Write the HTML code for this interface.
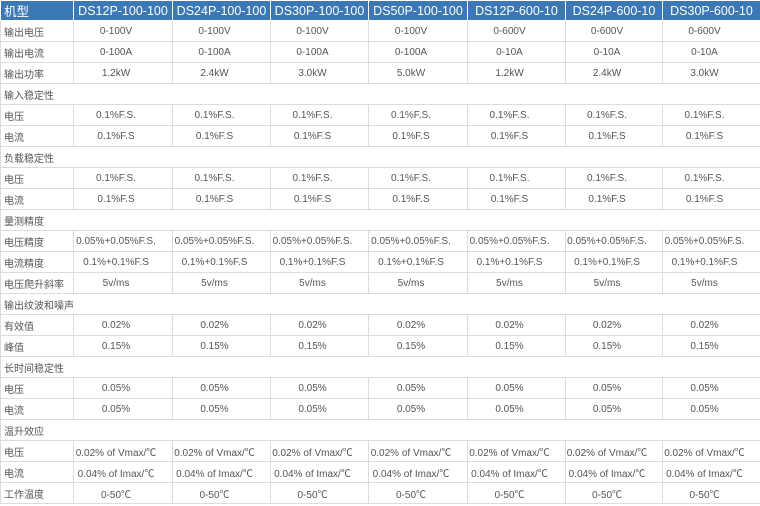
<!DOCTYPE html><html><head><meta charset="utf-8"><style>
body{margin:0;width:760px;height:506px;background:#fff;overflow:hidden}
table{border-collapse:collapse;table-layout:fixed;width:760px;font-family:"Liberation Sans","Noto Sans CJK SC",sans-serif;font-size:10px;color:#555}
td{border:1px solid #dcdcdc;height:20px;padding:0 14px 0 0;text-align:center;white-space:nowrap;overflow:hidden;vertical-align:middle}
td:first-child{text-align:left;padding:0 0 0 3px}
tr.h td{background:#3b78b5;color:#fff;font-size:12.5px;height:19px;border-color:#fff;padding:0}
tr.h td:first-child{padding-left:3px}
tr.s td{text-align:left;padding-left:3px}
</style></head><body><table>
<colgroup><col style="width:73px"><col style="width:99px"><col style="width:98px"><col style="width:98px"><col style="width:99px"><col style="width:98px"><col style="width:97px"><col style="width:98px"></colgroup>
<tr class="h"><td>机型</td><td>DS12P-100-100</td><td>DS24P-100-100</td><td>DS30P-100-100</td><td>DS50P-100-100</td><td>DS12P-600-10</td><td>DS24P-600-10</td><td>DS30P-600-10</td></tr>
<tr><td>输出电压</td><td>0-100V</td><td>0-100V</td><td>0-100V</td><td>0-100V</td><td>0-600V</td><td>0-600V</td><td>0-600V</td></tr>
<tr><td>输出电流</td><td>0-100A</td><td>0-100A</td><td>0-100A</td><td>0-100A</td><td>0-10A</td><td>0-10A</td><td>0-10A</td></tr>
<tr><td>输出功率</td><td>1.2kW</td><td>2.4kW</td><td>3.0kW</td><td>5.0kW</td><td>1.2kW</td><td>2.4kW</td><td>3.0kW</td></tr>
<tr class="s"><td colspan="8">输入稳定性</td></tr>
<tr><td>电压</td><td>0.1%F.S.</td><td>0.1%F.S.</td><td>0.1%F.S.</td><td>0.1%F.S.</td><td>0.1%F.S.</td><td>0.1%F.S.</td><td>0.1%F.S.</td></tr>
<tr><td>电流</td><td>0.1%F.S</td><td>0.1%F.S</td><td>0.1%F.S</td><td>0.1%F.S</td><td>0.1%F.S</td><td>0.1%F.S</td><td>0.1%F.S</td></tr>
<tr class="s"><td colspan="8">负载稳定性</td></tr>
<tr><td>电压</td><td>0.1%F.S.</td><td>0.1%F.S.</td><td>0.1%F.S.</td><td>0.1%F.S.</td><td>0.1%F.S.</td><td>0.1%F.S.</td><td>0.1%F.S.</td></tr>
<tr><td>电流</td><td>0.1%F.S</td><td>0.1%F.S</td><td>0.1%F.S</td><td>0.1%F.S</td><td>0.1%F.S</td><td>0.1%F.S</td><td>0.1%F.S</td></tr>
<tr class="s"><td colspan="8">量测精度</td></tr>
<tr><td>电压精度</td><td>0.05%+0.05%F.S.</td><td>0.05%+0.05%F.S.</td><td>0.05%+0.05%F.S.</td><td>0.05%+0.05%F.S.</td><td>0.05%+0.05%F.S.</td><td>0.05%+0.05%F.S.</td><td>0.05%+0.05%F.S.</td></tr>
<tr><td>电流精度</td><td>0.1%+0.1%F.S</td><td>0.1%+0.1%F.S</td><td>0.1%+0.1%F.S</td><td>0.1%+0.1%F.S</td><td>0.1%+0.1%F.S</td><td>0.1%+0.1%F.S</td><td>0.1%+0.1%F.S</td></tr>
<tr><td>电压爬升斜率</td><td>5v/ms</td><td>5v/ms</td><td>5v/ms</td><td>5v/ms</td><td>5v/ms</td><td>5v/ms</td><td>5v/ms</td></tr>
<tr class="s"><td colspan="8">输出纹波和噪声</td></tr>
<tr><td>有效值</td><td>0.02%</td><td>0.02%</td><td>0.02%</td><td>0.02%</td><td>0.02%</td><td>0.02%</td><td>0.02%</td></tr>
<tr><td>峰值</td><td>0.15%</td><td>0.15%</td><td>0.15%</td><td>0.15%</td><td>0.15%</td><td>0.15%</td><td>0.15%</td></tr>
<tr class="s"><td colspan="8">长时间稳定性</td></tr>
<tr><td>电压</td><td>0.05%</td><td>0.05%</td><td>0.05%</td><td>0.05%</td><td>0.05%</td><td>0.05%</td><td>0.05%</td></tr>
<tr><td>电流</td><td>0.05%</td><td>0.05%</td><td>0.05%</td><td>0.05%</td><td>0.05%</td><td>0.05%</td><td>0.05%</td></tr>
<tr class="s"><td colspan="8">温升效应</td></tr>
<tr><td>电压</td><td>0.02% of Vmax/℃</td><td>0.02% of Vmax/℃</td><td>0.02% of Vmax/℃</td><td>0.02% of Vmax/℃</td><td>0.02% of Vmax/℃</td><td>0.02% of Vmax/℃</td><td>0.02% of Vmax/℃</td></tr>
<tr><td>电流</td><td>0.04% of Imax/℃</td><td>0.04% of Imax/℃</td><td>0.04% of Imax/℃</td><td>0.04% of Imax/℃</td><td>0.04% of Imax/℃</td><td>0.04% of Imax/℃</td><td>0.04% of Imax/℃</td></tr>
<tr><td>工作温度</td><td>0-50℃</td><td>0-50℃</td><td>0-50℃</td><td>0-50℃</td><td>0-50℃</td><td>0-50℃</td><td>0-50℃</td></tr>
</table></body></html>
